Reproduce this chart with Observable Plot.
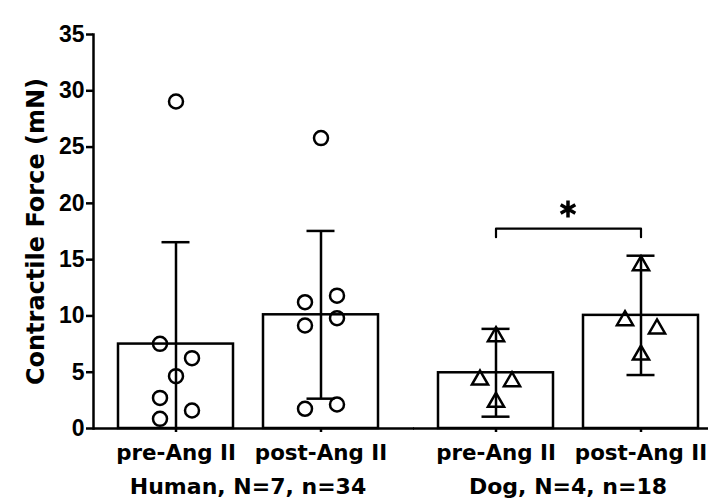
<!DOCTYPE html>
<html><head><meta charset="utf-8">
<script src="https://cdn.jsdelivr.net/npm/d3@7"></script>
<script src="https://cdn.jsdelivr.net/npm/@observablehq/plot@0.6"></script>
<style>html,body{margin:0;padding:0;background:#fff}</style>
</head><body><div id="chart"></div>
<script>
const groups = ["Human, N=7, n=34", "Dog, N=4, n=18"];
const conditions = ["pre-Ang II", "post-Ang II"];
const yTicks = [0, 5, 10, 15, 20, 25, 30, 35];
const yLabel = "Contractile Force (mN)";

// Bars (mean ± SD): Human pre, Human post, Dog pre, Dog post
const barGroup = [groups[0], groups[0], groups[1], groups[1]];
const barCond = [conditions[0], conditions[1], conditions[0], conditions[1]];
const barMean = [7.5, 10.1, 4.95, 10.05];
const barSD = [9.05, 7.45, 3.9, 5.3];

// Individual animals (value, scatter column)
const humanPre = [29.05, 7.52, 6.25, 4.65, 2.72, 1.6, 0.86];
const humanPreCol = ["C", "L", "R", "C", "L", "R", "L"];
const humanPost = [25.8, 11.22, 11.8, 9.15, 9.8, 1.75, 2.13];
const humanPostCol = ["C", "L", "R", "L", "R", "L", "R"];
const dogPre = [8.17, 4.32, 4.17, 2.34];
const dogPreCol = ["C", "L", "R", "C"];
const dogPost = [14.48, 9.59, 8.86, 6.54];
const dogPostCol = ["C", "L", "R", "C"];

// Significance bracket (Dog pre vs post)
const sigGroup = groups[1];
const sigLow = 17.0, sigHigh = 17.75, sigStar = 19.5;

const bars = barMean.map((m, i) => ({group: barGroup[i], cond: barCond[i], mean: m, lo: m - barSD[i], hi: m + barSD[i]}));
const pts = [];
function addPts(vals, cols, g, c) { vals.forEach((v, i) => pts.push({group: g, cond: c, value: v, col: cols[i]})); }
addPts(humanPre, humanPreCol, groups[0], conditions[0]);
addPts(humanPost, humanPostCol, groups[0], conditions[1]);
addPts(dogPre, dogPreCol, groups[1], conditions[0]);
addPts(dogPost, dogPostCol, groups[1], conditions[1]);

const bracket = [
  {group: sigGroup, cond: conditions[0], y: sigLow},
  {group: sigGroup, cond: conditions[0], y: sigHigh},
  {group: sigGroup, cond: conditions[1], y: sigHigh},
  {group: sigGroup, cond: conditions[1], y: sigLow}
];

const stroke = "#000";
const sw = 2.5;
const dotMarks = [];
for (const [col, dx] of [["L", -16], ["C", 0], ["R", 16]]) {
  dotMarks.push(Plot.dot(pts.filter(d => d.col === col && d.group === groups[0]),
    {fx: "group", x: "cond", y: "value", dx, r: 7, symbol: "circle", stroke, strokeWidth: sw, fill: "none"}));
  dotMarks.push(Plot.dot(pts.filter(d => d.col === col && d.group === groups[1]),
    {fx: "group", x: "cond", y: "value", dx, r: 6, symbol: "triangle", stroke, strokeWidth: sw, fill: "none"}));
}

const chart = Plot.plot({
  width: 708, height: 499,
  marginTop: 34, marginBottom: 71, marginLeft: 93, marginRight: -14.5,
  fx: {domain: groups, paddingInner: 0.0359, paddingOuter: 0},
  x: {domain: conditions, paddingInner: 0.2096, paddingOuter: 0.1667},
  y: {domain: [0, 35]},
  style: {background: "white", color: "black", fontFamily: "DejaVu Sans", fontWeight: "bold"},
  marks: [
    Plot.barY(bars, {fx: "group", x: "cond", y: "mean", fill: "white", stroke, strokeWidth: sw}),
    Plot.ruleX(bars, {fx: "group", x: "cond", y1: d => Math.max(0, d.lo), y2: "hi", stroke, strokeWidth: sw}),
    Plot.tickY(bars, {fx: "group", x: "cond", y: "hi", stroke, strokeWidth: sw, insetLeft: 43.5, insetRight: 43.5}),
    Plot.tickY(bars.filter(d => d.lo >= 0), {fx: "group", x: "cond", y: "lo", stroke, strokeWidth: sw, insetLeft: 43.5, insetRight: 43.5}),
    ...dotMarks,
    Plot.ruleY([0], {stroke, strokeWidth: sw, insetRight: -12}),
    Plot.frame({anchor: "left", facetAnchor: "left", stroke, strokeWidth: sw}),
    Plot.line(bracket, {fx: "group", x: "cond", y: "y", stroke, strokeWidth: 2.2}),
    Plot.dot([{group: sigGroup}], {fx: "group", y: () => sigStar, symbol: "asterisk", r: 8, stroke, strokeWidth: 3.5}),
    Plot.axisY({ticks: yTicks, tickSize: 7, tickPadding: 2, strokeWidth: sw, fontSize: 23, fontFamily: "Liberation Sans", fontWeight: "bold", label: null}),
    Plot.axisY({ticks: [], tickSize: 0, label: yLabel, labelArrow: "none", labelAnchor: "center", labelOffset: 67, fontSize: 24, fontFamily: "DejaVu Sans", fontWeight: "bold"}),
    Plot.axisX({tickSize: 4, tickPadding: 12, strokeWidth: sw, fontSize: 21.4, fontFamily: "DejaVu Sans", fontWeight: "bold", label: null}),
    Plot.axisFx({anchor: "bottom", tickSize: 0, tickPadding: 50, fontSize: 22, fontFamily: "DejaVu Sans", fontWeight: "bold", label: null})
  ]
});
document.getElementById("chart").append(chart);
</script>
</body></html>
